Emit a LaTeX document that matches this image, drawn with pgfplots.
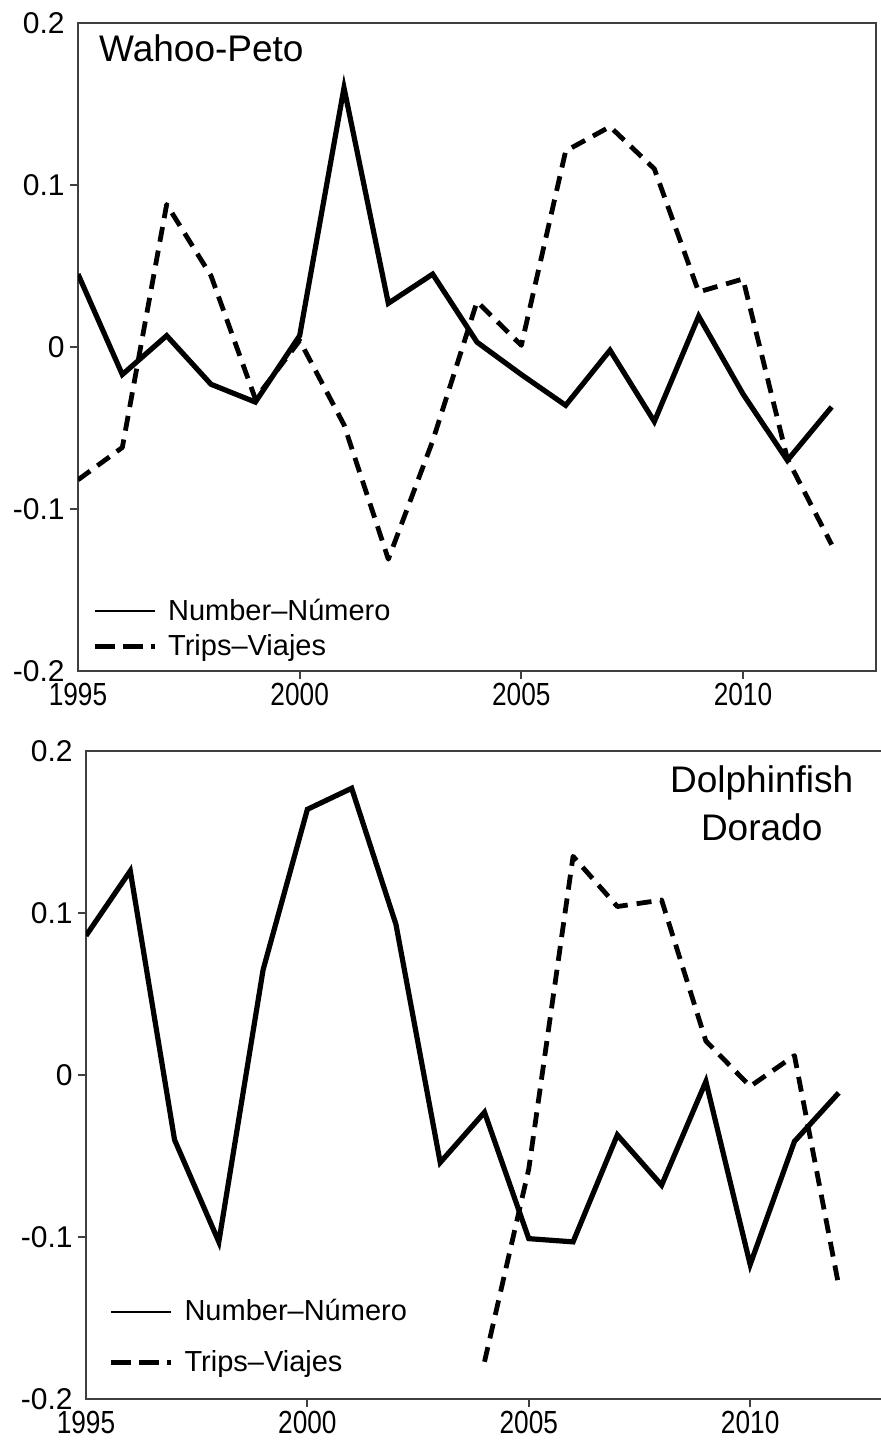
\documentclass[border=0pt]{standalone}
\usepackage{pgfplots}
\pgfplotsset{compat=1.18}
\usepackage{fontspec}
\setmainfont{Liberation Sans}
\pgfplotstableread{
year num
1995 0.045
1996 -0.017
1997 0.007
1998 -0.023
1999 -0.034
2000 0.007
2001 0.160
2002 0.027
2003 0.045
2004 0.003
2005 -0.017
2006 -0.036
2007 -0.002
2008 -0.046
2009 0.019
2010 -0.029
2011 -0.070
2012 -0.037
}\wahooNum
\pgfplotstableread{
year trips
1995 -0.082
1996 -0.062
1997 0.088
1998 0.044
1999 -0.032
2000 0.004
2001 -0.048
2002 -0.131
2003 -0.058
2004 0.028
2005 0.001
2006 0.121
2007 0.136
2008 0.110
2009 0.034
2010 0.042
2011 -0.069
2012 -0.122
}\wahooTrips
\pgfplotstableread{
year num
1995 0.086
1996 0.126
1997 -0.040
1998 -0.103
1999 0.065
2000 0.164
2001 0.177
2002 0.093
2003 -0.054
2004 -0.023
2005 -0.101
2006 -0.103
2007 -0.037
2008 -0.068
2009 -0.004
2010 -0.117
2011 -0.041
2012 -0.011
}\doradoNum
\pgfplotstableread{
year trips
2004 -0.177
2005 -0.058
2006 0.135
2007 0.104
2008 0.108
2009 0.021
2010 -0.007
2011 0.012
2012 -0.130
}\doradoTrips
\newcommand\yfont{\fontsize{15}{17}\selectfont}
\newcommand\xfont{\fontsize{16}{18}\selectfont}
\newcommand\legfont{\fontsize{14.5}{16}\selectfont}
\newcommand\titfont{\fontsize{18.5}{22}\selectfont}
\newcommand\xl[1]{\scalebox{0.82}[1]{#1}}
\begin{document}
\begin{tikzpicture}
\path[use as bounding box] (0,0) rectangle (440.5pt,-726pt);
\pgfplotsset{
  panel/.style={
    scale only axis, height=324pt,
    xmin=1995, xmax=2013, ymin=-0.2, ymax=0.2,
    axis line style={line width=1pt, black!75},
    major tick style={line width=1pt, black!75},
    major tick length=4pt,
    tick align=outside, tick pos=left,
    xtick={2000,2005,2010}, xticklabels={\xl{2000},\xl{2005},\xl{2010}},
    extra x ticks={1995}, extra x tick labels={\xl{1995}},
    ytick={-0.1,0,0.1}, yticklabels={-0.1,0,0.1},
    extra y ticks={-0.2,0.2}, extra y tick labels={-0.2,0.2},
    extra tick style={major tick style={draw=none}},
    xticklabel style={font=\xfont, inner sep=2pt},
    yticklabel style={font=\yfont, inner sep=2.5pt},
    legend image code/.code={\draw[##1] (0pt,0pt) -- (30pt,0pt);},
    legend cell align=left,
  },
  numline/.style={line width=2.6pt, black},
  tripline/.style={line width=2.4pt, black, dash pattern=on 7.5pt off 4.5pt, line join=round},
}
\begin{axis}[panel, width=399pt, at={(39pt,-335.5pt)}, anchor=south west,
  legend style={at={(axis cs:1995.31,-0.1553)}, anchor=north west, draw=none, fill=none,
    inner sep=0pt, font=\legfont, row sep=5.5pt, column sep=5.5pt, nodes={inner sep=0pt}}]
\addplot[numline, forget plot] table[x=year,y=num] {\wahooNum};
\addplot[tripline, forget plot] table[x=year,y=trips] {\wahooTrips};
\addlegendimage{line width=1pt, black}
\addlegendentry{Number--Número}
\addlegendimage{line width=2.5pt, black, dash pattern=on 10pt off 4pt}
\addlegendentry{Trips--Viajes}
\node[anchor=base west, inner sep=0pt, font=\titfont] at (axis cs:1995.47,0.1765) {Wahoo-Peto};
\end{axis}
\begin{axis}[panel, width=398.5pt, at={(43pt,-699.5pt)}, anchor=south west,
  legend style={at={(axis cs:1995.50,-0.1383)}, anchor=north west, draw=none, fill=none,
    inner sep=0pt, font=\legfont, row sep=13.5pt, column sep=5.5pt, nodes={inner sep=0pt}}]
\addplot[numline, forget plot] table[x=year,y=num] {\doradoNum};
\addplot[tripline, forget plot] table[x=year,y=trips] {\doradoTrips};
\addlegendimage{line width=1pt, black}
\addlegendentry{Number--Número}
\addlegendimage{line width=2.5pt, black, dash pattern=on 10pt off 4pt}
\addlegendentry{Trips--Viajes}
\node[anchor=base, inner sep=0pt, font=\titfont] at (axis cs:2010.26,0.1746) {Dolphinfish};
\node[anchor=base, inner sep=0pt, font=\titfont] at (axis cs:2010.26,0.1449) {Dorado};
\end{axis}
\end{tikzpicture}
\end{document}
